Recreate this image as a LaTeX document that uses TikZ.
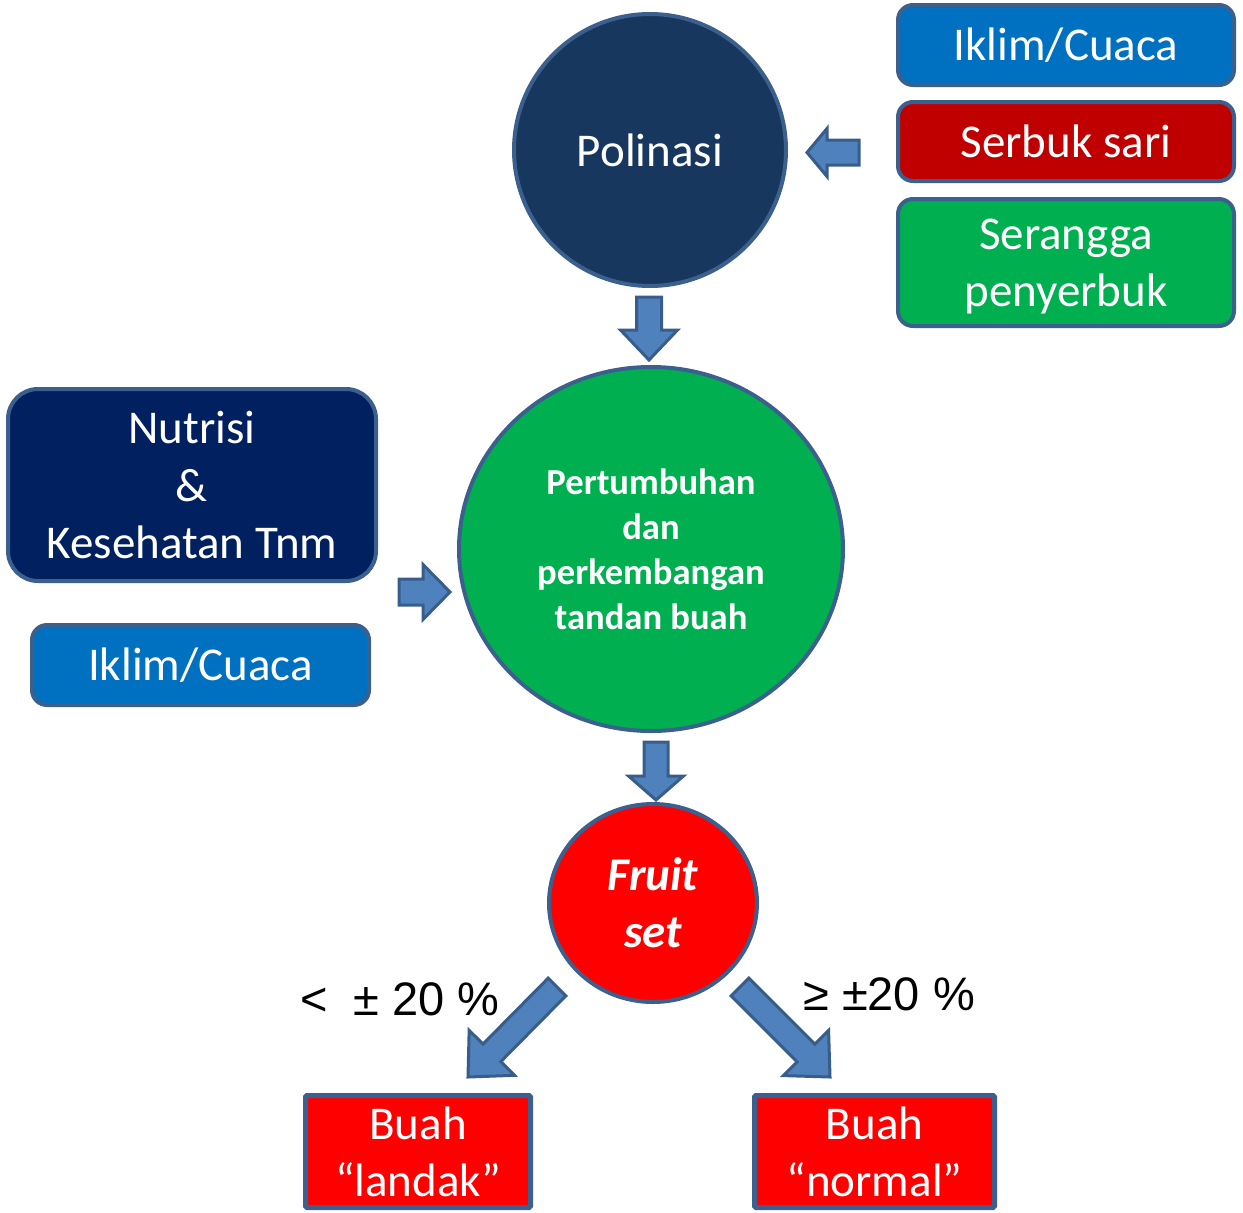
\documentclass[tikz,border=0pt]{standalone}
\usepackage{fontspec}
\setmainfont{Carlito}
\newfontfamily\arialfont{Liberation Sans}
\usetikzlibrary{calc,shapes.geometric}
\definecolor{navyA}{RGB}{23,55,94}
\definecolor{navyB}{RGB}{0,32,96}
\definecolor{blueA}{RGB}{0,112,192}
\definecolor{redA}{RGB}{192,0,0}
\definecolor{greenA}{RGB}{0,176,80}
\definecolor{redB}{RGB}{255,0,0}
\definecolor{edgeA}{RGB}{60,96,142}
\definecolor{arrowfill}{RGB}{79,129,189}
\definecolor{arrowedge}{RGB}{56,93,138}
\tikzset{
  bigtext/.style={font=\fontsize{47}{57.3}\selectfont, text=white, align=center},
  roundbox/.style={bigtext, draw=edgeA, line width=4pt, rounded corners=15pt, inner sep=0pt},
  circ/.style={bigtext, draw=edgeA, line width=4pt, ellipse, inner sep=0pt},
  sqbox/.style={bigtext, draw=edgeA, line width=5pt, rounded corners=1.5pt, inner sep=0pt},
  barrow/.style={fill=arrowfill, draw=arrowedge, line width=3pt, line join=miter},
  pct/.style={font=\arialfont\fontsize{47}{56}\selectfont, text=black, inner sep=0pt}
}
\newcommand\blockarrow[5]{%
  \coordinate (ba-h) at ($(#2)!#5!(#1)$);
  \draw[barrow] ($(#1)!#3!90:(#2)$) -- ($(ba-h)!#3!90:(#2)$) -- ($(ba-h)!#4!90:(#2)$) -- (#2)
    -- ($(ba-h)!#4!-90:(#2)$) -- ($(ba-h)!#3!-90:(#2)$) -- ($(#1)!#3!-90:(#2)$) -- cycle;
}
\begin{document}
\begin{tikzpicture}[x=1pt,y=-1pt]
\useasboundingbox (0,0) rectangle (1243,1213);
% circles
\node[circ, fill=navyA, minimum width=272pt, minimum height=272pt] (pol) at (650,150) {Polinasi};
\node[circ, fill=greenA, minimum width=384pt, minimum height=364pt,
      font=\bfseries\fontsize{36.6}{45}\selectfont] (per) at (651,549)
      {Pertumbuhan\\dan\\perkembangan\\tandan buah};
\node[circ, fill=redB, minimum width=208pt, minimum height=198pt,
      font=\bfseries\itshape\fontsize{47}{57.3}\selectfont] (fru) at (653,903) {\raisebox{-5pt}{Fruit}\\\raisebox{-5pt}{set}};
% right boxes
\node[roundbox, fill=blueA, minimum width=336pt, minimum height=80pt] (ik1) at (1066,45) {Iklim/Cuaca};
\node[roundbox, fill=redA, minimum width=336pt, minimum height=79pt] (ser) at (1066,141.5) {Serbuk sari};
\node[roundbox, fill=greenA, minimum width=336pt, minimum height=127pt, text depth=0pt] (sel) at (1066,262.5) {Serangga\\penyerbuk};
% left boxes
\node[roundbox, fill=navyB, rounded corners=30pt, minimum width=368pt, minimum height=192pt] (nut) at (192,485)
  {Nutrisi\\\&\\Kesehatan Tnm};
\node[roundbox, fill=blueA, minimum width=337pt, minimum height=80pt] (ik2) at (200.5,665) {Iklim/Cuaca};
% bottom boxes
\node[sqbox, fill=redB, minimum width=225pt, minimum height=112pt] (lan) at (418,1151.5) {Buah\\“landak”};
\node[sqbox, fill=redB, minimum width=240pt, minimum height=112pt] (nor) at (874.5,1151.5) {Buah\\“normal”};
% labels
\node[pct, anchor=base west] (lab1) at (300,1015) {<\ \ ± 20 \%};
\node[pct, anchor=base west] (lab2) at (803,1010) {≥ ±20 \%};
% arrow end points
\coordinate (a1s) at (859,152.5); \coordinate (a1e) at (807,152.5);
\coordinate (a2s) at (649,297);   \coordinate (a2e) at (649,360);
\coordinate (a3s) at (399,592);   \coordinate (a3e) at (450,592);
\coordinate (a4s) at (656,742);   \coordinate (a4e) at (656,800);
\coordinate (a5s) at (557,987);   \coordinate (a5e) at (468,1077);
\coordinate (a6s) at (740,987);   \coordinate (a6e) at (830,1077);
\blockarrow{a1s}{a1e}{12.5pt}{24pt}{20pt}
\blockarrow{a2s}{a2e}{12.5pt}{28.5pt}{30pt}
\blockarrow{a3s}{a3e}{13pt}{27.5pt}{27pt}
\blockarrow{a4s}{a4e}{12pt}{27.5pt}{24pt}
\blockarrow{a5s}{a5e}{12.5pt}{32pt}{34pt}
\blockarrow{a6s}{a6e}{12.5pt}{32pt}{34pt}
\end{tikzpicture}
\end{document}
